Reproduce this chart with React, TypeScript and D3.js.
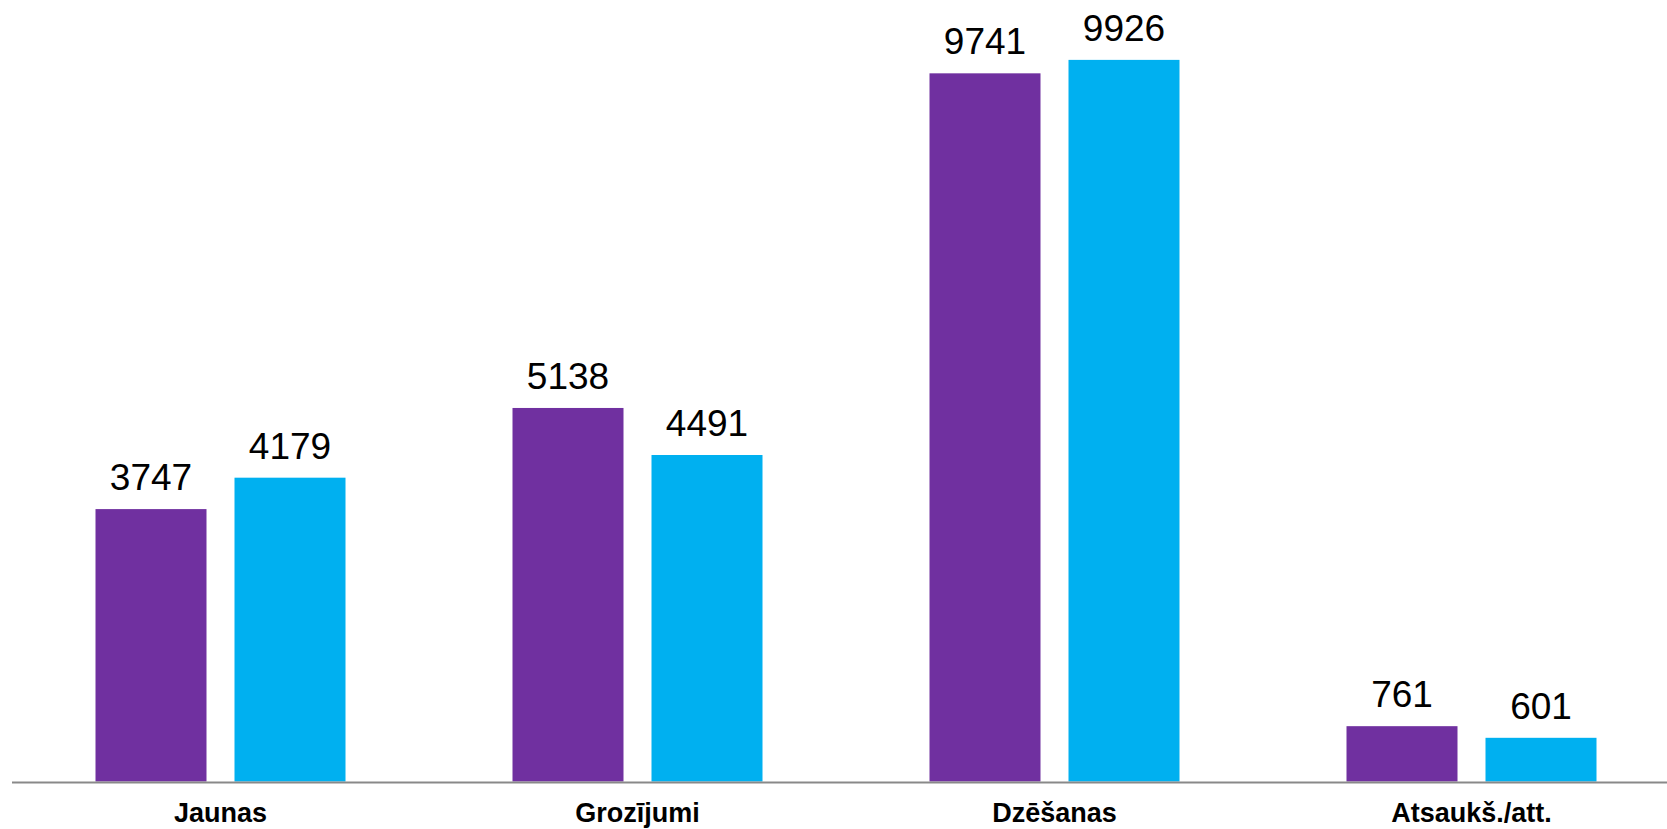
import { useEffect, useRef } from 'react';
import * as d3 from 'd3';

const categories = ['Jaunas', 'Grozījumi', 'Dzēšanas', 'Atsaukš./att.'];
const seriesKeys = ['first', 'second'];
const firstValues = [3747, 5138, 9741, 761];
const secondValues = [4179, 4491, 9926, 601];
const seriesColors = ['#7030A0', '#00B0F0'];

const width = 1667;
const height = 829;

const App = () => {
  const svgRef = useRef<SVGSVGElement | null>(null);

  useEffect(() => {
    if (!svgRef.current) return;
    const svg = d3.select(svgRef.current);
    svg.selectAll('*').remove();

    const baseline = 781.5;
    const x0 = d3.scaleBand().domain(categories).range([12, 1680]).paddingInner(0).paddingOuter(0);
    const x1 = d3.scaleBand().domain(seriesKeys).range([0, x0.bandwidth()])
      .paddingInner(28 / 139).paddingOuter(0.6007);
    const y = d3.scaleLinear().domain([0, 10000]).range([baseline, 54.5]);

    const rows = categories.map((c, i) => ({
      cat: c,
      vals: [firstValues[i], secondValues[i]],
    }));

    const groups = svg.selectAll('g.group')
      .data(rows)
      .enter()
      .append('g')
      .attr('class', 'group')
      .attr('transform', d => `translate(${x0(d.cat)},0)`);

    const bars = groups.selectAll('g.bar')
      .data(d => d.vals.map((v, j) => ({ key: seriesKeys[j], value: v, color: seriesColors[j] })))
      .enter()
      .append('g')
      .attr('class', 'bar');

    bars.append('rect')
      .attr('x', d => x1(d.key) as number)
      .attr('y', d => y(d.value))
      .attr('width', x1.bandwidth())
      .attr('height', d => baseline - y(d.value))
      .attr('fill', d => d.color);

    // value labels
    bars.append('text')
      .attr('x', d => (x1(d.key) as number) + x1.bandwidth() / 2)
      .attr('y', d => y(d.value) - 19)
      .attr('text-anchor', 'middle')
      .attr('font-family', '"Liberation Sans", Arial, sans-serif')
      .attr('font-size', 37)
      .attr('fill', '#000')
      .text(d => d.value);

    // axis line
    svg.append('line')
      .attr('x1', 12)
      .attr('x2', width)
      .attr('y1', baseline + 1)
      .attr('y2', baseline + 1)
      .attr('stroke', '#898989')
      .attr('stroke-width', 2);

    // category labels
    svg.selectAll('text.cat')
      .data(categories)
      .enter()
      .append('text')
      .attr('class', 'cat')
      .attr('x', d => (x0(d) as number) + x0.bandwidth() / 2)
      .attr('y', 822)
      .attr('text-anchor', 'middle')
      .attr('font-family', '"Liberation Sans", Arial, sans-serif')
      .attr('font-weight', 'bold')
      .attr('font-size', 27)
      .attr('fill', '#000')
      .text(d => d);
  }, []);

  return (
    <svg
      ref={svgRef}
      width={width}
      height={height}
      style={{ position: 'absolute', left: 0, top: 0, background: '#fff' }}
    ></svg>
  );
};

export default App;
